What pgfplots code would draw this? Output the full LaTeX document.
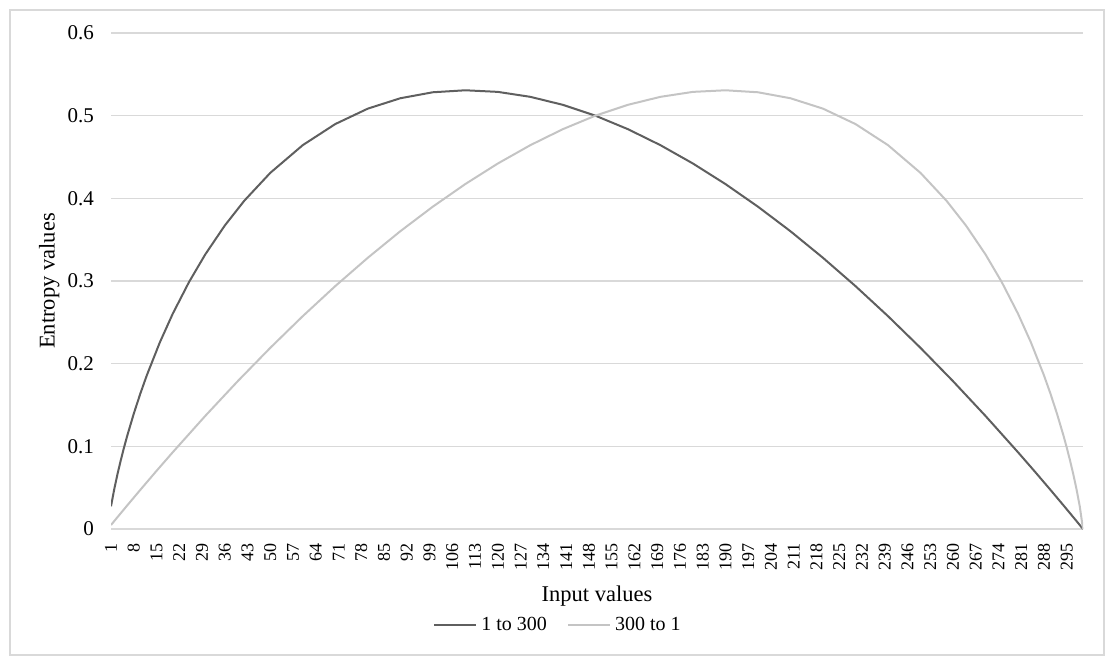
\documentclass[border=0pt]{standalone}
\usepackage{fontspec}
\setmainfont{Liberation Serif}
\usepackage{pgfplots}
\pgfplotsset{compat=1.18}
\definecolor{darkline}{HTML}{5F5F5F}
\definecolor{lightline}{HTML}{C4C4C4}
\definecolor{gridc}{HTML}{D9D9D9}
\begin{document}
\begin{tikzpicture}
\path[use as bounding box] (0pt,0pt) rectangle (556.5pt,332pt);
\draw[gridc, line width=0.75pt] (5pt,4.5pt) rectangle (552pt,327pt);
\begin{axis}[
  at={(55.5pt,67.5pt)}, anchor=south west,
  scale only axis, width=486pt, height=248pt,
  xmin=1, xmax=300, ymin=0, ymax=0.6,
  axis line style={draw=none},
  ymajorgrids, grid style={gridc, line width=0.6pt},
  major tick length=0,
  xtick={1,8,...,295},
  ytick={0,0.1,0.2,0.3,0.4,0.5,0.6},
  yticklabels={0,0.1,0.2,0.3,0.4,0.5,0.6},
  /pgf/number format/assume math mode=true,
  xticklabel style={rotate=90, anchor=east, font=\fontsize{9}{10}\selectfont, xshift=-3.5pt},
  yticklabel style={font=\fontsize{10.5}{12}\selectfont, xshift=-5pt},
  xlabel={Input values}, ylabel={Entropy values},
  label style={font=\fontsize{11.25}{13}\selectfont},
  xlabel style={at={(axis description cs:0.5,-0.135)}, anchor=center},
  ylabel style={at={(axis description cs:-0.0635,0.5)}, anchor=center},
  legend columns=2,
  legend style={draw=none, fill=none, at={(axis description cs:0.4609,-0.194)}, anchor=center,
    font=\fontsize{10}{12}\selectfont,
    /tikz/every even column/.append style={column sep=8pt}},
  legend image code/.code={\draw[#1] (0pt,0pt) -- (21pt,0pt);},
  no markers,
]
\addplot[darkline, line width=1pt] coordinates {
(1,0.02743) (2,0.04819) (3,0.06644) (4,0.08305) (5,0.09845) (6,0.11288) (8,0.13943) (10,0.16356) (12,0.18575) (16,0.22554) (20,0.26046) (25,0.29874) (30,0.33219) (36,0.36707) (42,0.39711) (50,0.43082) (60,0.46438) (70,0.48988) (80,0.50851) (90,0.52107) (100,0.52830) (110,0.53071) (120,0.52877) (130,0.52277) (140,0.51310) (150,0.5) (160,0.48368) (170,0.46433) (180,0.44214) (190,0.41730) (200,0.38993) (210,0.36022) (220,0.32809) (230,0.29386) (240,0.25752) (250,0.21917) (260,0.17888) (270,0.13680) (280,0.09287) (285,0.07030) (290,0.04727) (294,0.02856) (297,0.01436) (299,0.00480) (300,0)
};
\addlegendentry{1 to 300}
\addplot[lightline, line width=1pt] coordinates {
(1,0.00480) (3,0.01436) (6,0.02856) (10,0.04727) (15,0.07030) (20,0.09287) (30,0.13680) (40,0.17888) (50,0.21917) (60,0.25752) (70,0.29386) (80,0.32809) (90,0.36022) (100,0.38993) (110,0.41730) (120,0.44214) (130,0.46433) (140,0.48368) (150,0.5) (160,0.51310) (170,0.52277) (180,0.52877) (190,0.53071) (200,0.52830) (210,0.52107) (220,0.50851) (230,0.48988) (240,0.46438) (250,0.43082) (258,0.39711) (264,0.36707) (270,0.33219) (275,0.29874) (280,0.26046) (284,0.22554) (288,0.18575) (290,0.16356) (292,0.13943) (294,0.11288) (295,0.09845) (296,0.08305) (297,0.06644) (298,0.04819) (299,0.02743) (300,0)
};
\addlegendentry{300 to 1}
\end{axis}
\end{tikzpicture}
\end{document}
